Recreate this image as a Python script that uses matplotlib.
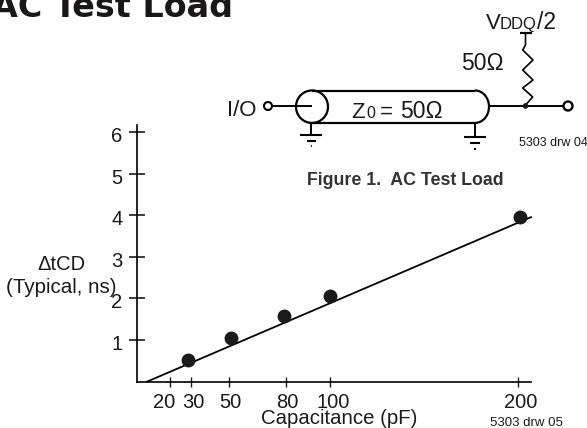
import numpy as np
import matplotlib
matplotlib.use('Agg')
import matplotlib.pyplot as plt
from matplotlib.patches import Arc, Circle
from matplotlib.ticker import NullLocator
from matplotlib.transforms import ScaledTranslation

plt.rcParams['font.family'] = ['Liberation Sans', 'DejaVu Sans']

W, H = 587, 428
INK = '#1a1a1a'

# chart values
cap_ticks = [20, 30, 50, 80, 100, 200]
y_ticks = [1, 2, 3, 4, 5, 6]
cap_points = [29, 51, 79, 100, 201]
tcd_points = [0.52, 1.05, 1.58, 2.06, 3.96]
fit_cap = [8.5, 207]
fit_tcd = [0, 3.96]

# the printed x axis is not quite even, these are the tick spots in pixels
scale_cap = [3, 20, 30, 50, 80, 100, 200, 207]
scale_px = [136.5, 170, 190.5, 229, 286, 330, 518, 531]
# labels in the source sit a little off their ticks (pixels)
xlabel_shift = [-6, 2.5, 1, 1, 3, 3]
ylabel_drop = 2.5


def fwd(v):
    return np.interp(v, scale_cap, scale_px)


def inv(v):
    return np.interp(v, scale_px, scale_cap)


fig = plt.figure(figsize=(W / 100, H / 100), dpi=100)
ax = fig.add_axes([136.5 / W, 1 - 381.5 / H, (531 - 136.5) / W, (381.5 - 125) / H])
ax.set_xscale('function', functions=(fwd, inv))
ax.set_xlim(3, 207)
ax.set_ylim(0, 6.18)
ax.patch.set_alpha(0)

ax.plot(fit_cap, fit_tcd, color='black', lw=1.3, clip_on=False)
ax.scatter(cap_points, tcd_points, s=100, color=INK, zorder=3, clip_on=False, linewidths=0)

ax.spines['top'].set_visible(False)
ax.spines['right'].set_visible(False)
ax.spines['left'].set_linewidth(1.2)
ax.spines['bottom'].set_linewidth(1.2)
ax.set_xticks(cap_ticks)
ax.set_xticklabels([str(c) for c in cap_ticks])
ax.xaxis.set_minor_locator(NullLocator())
ax.set_yticks(y_ticks)
ax.tick_params(axis='both', colors=INK)
ax.tick_params(axis='x', direction='inout', length=6.5, width=1, labelsize=14.5, pad=5)
ax.tick_params(axis='y', direction='inout', length=11, width=1.2, labelsize=14.5, pad=4.5)

for lab, dx in zip(ax.get_xticklabels(), xlabel_shift):
    lab.set_transform(lab.get_transform() + ScaledTranslation(dx / 100, 0, fig.dpi_scale_trans))
for lab in ax.get_yticklabels():
    lab.set_transform(lab.get_transform() + ScaledTranslation(0, -ylabel_drop / 100, fig.dpi_scale_trans))

# overlay in pixel coordinates for the schematic and the loose text
ov = fig.add_axes([0, 0, 1, 1])
ov.set_xlim(0, W)
ov.set_ylim(H, 0)
ov.axis('off')
ov.patch.set_alpha(0)


def wire(xs, ys, lw=1.4):
    ov.plot(xs, ys, color='black', lw=lw, solid_capstyle='butt')


def label(x, y, s, size=16, **kw):
    kw.setdefault('ha', 'left')
    kw.setdefault('va', 'baseline')
    kw.setdefault('color', INK)
    ov.text(x, y, s, fontsize=size, **kw)


# heading, cropped by the edge of the page like the source
label(-8, 17, 'AC Test Load', 24, family='DejaVu Sans', fontweight='bold', color='#1a1718')

# coax
wire([272, 312], [106, 106])
wire([312, 475], [90.5, 90.5], 1.6)
wire([312, 475], [123, 123], 1.6)
ov.add_patch(Arc((312, 106.7), 32, 32.5, theta1=0, theta2=360, color='black', lw=1.6))
ov.add_patch(Arc((475, 106.7), 28, 32.5, theta1=-90, theta2=90, color='black', lw=1.6))
wire([489, 563], [106, 106])
ov.add_patch(Circle((268, 106), 4, fc='white', ec='black', lw=1.5))
ov.add_patch(Circle((568, 106), 4.5, fc='white', ec='black', lw=1.7))
ov.add_patch(Circle((525.5, 106), 2.8, fc=INK, ec='none', zorder=3))

# resistor up to VDDQ/2
wire([520, 532], [32.5, 32.5], 1.6)
wire([525.5, 525.5, 522.7, 533, 522.7, 533, 522.7, 532.7, 525.5],
     [33, 45, 50, 60, 70, 80, 88, 97, 105], 1.2)

# grounds
wire([311, 311], [123, 134])
wire([300, 322], [134.5, 134.5], 1.5)
wire([307, 316], [141, 141], 1.5)
wire([310.5, 312], [146, 146], 1.2)
wire([475, 475], [123, 137])
wire([464, 486], [137, 137], 1.5)
wire([470, 480], [143, 143], 1.5)
wire([474, 476], [149, 149], 1.5)

label(227, 116, 'I/O', 16)
label(351, 118, 'Z', 16)
label(366.5, 118, '0', 11.5)
label(380, 118, '=', 16)
label(400, 118, '50Ω', 16.5)
label(461.5, 70, '50Ω', 16.5)
label(486, 29, 'V', 16)
label(500, 29, 'DDQ', 12)
label(537, 29, '/2', 16.5)
label(519, 146, '5303 drw 04', 9)
label(307, 185, 'Figure 1.  AC Test Load', 12.8, fontweight='bold', color='#333333')
label(61, 270, 'ΔtCD', 14.5, ha='center')
label(61.5, 293, '(Typical, ns)', 14.8, ha='center')
label(339.5, 424, 'Capacitance (pF)', 14.7, ha='center')
label(490, 426, '5303 drw 05', 9.5)

fig.savefig('out.png', dpi=100)
